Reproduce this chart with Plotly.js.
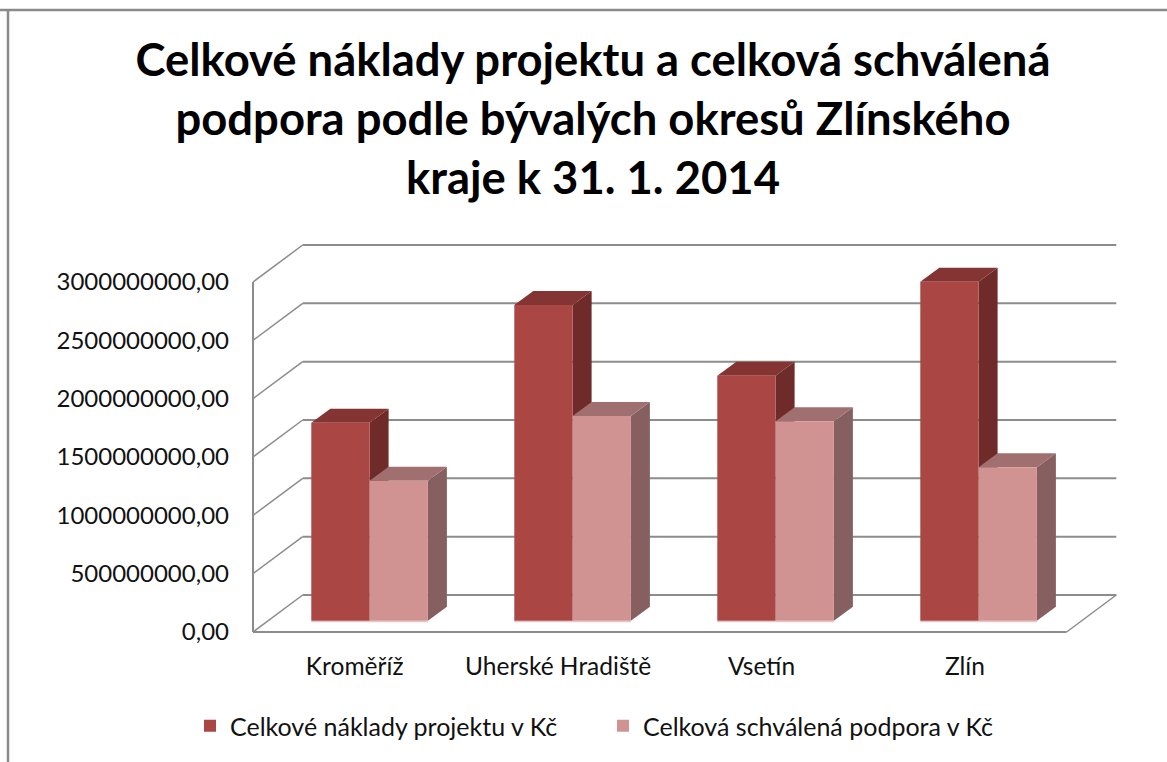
<!DOCTYPE html>
<html>
<head>
<meta charset="utf-8">
<script src="https://cdn.plot.ly/plotly-3.0.1.min.js"></script>
<style>html,body{margin:0;padding:0;background:#fff;overflow:hidden}</style>
</head>
<body>
<div id="chart" style="width:1167px;height:762px"></div>
<script>
const categories = ['Kroměříž', 'Uherské Hradiště', 'Vsetín', 'Zlín'];
const naklady = [1.697e9, 2.706e9, 2.10e9, 2.906e9];
const podpora = [1.20e9, 1.755e9, 1.709e9, 1.315e9];
const tickValues = [0, 5e8, 1e9, 1.5e9, 2e9, 2.5e9, 3e9];
const tickLabels = ['0,00', '500000000,00', '1000000000,00', '1500000000,00', '2000000000,00', '2500000000,00', '3000000000,00'];
const seriesNames = ['Celkové náklady projektu v Kč', 'Celková schválená podpora v Kč'];
const titleText = 'Celkové náklady projektu a celková schválená<br>podpora podle bývalých okresů Zlínského<br>kraje k 31. 1. 2014';

// perspective constants in axis units
const W = 1167, H = 762;
const m = {l: 240, r: 37, t: 235, b: 120};
const pxPerCat = 203.4, pxPerVal = 58.33 / 5e8;
const xRange = [(m.l - 354.7) / pxPerCat, (W - m.r - 354.7) / pxPerCat];
const yRange = [-(H - m.b - 632) / pxPerVal, (632 - m.t) / pxPerVal];
const wallDx = 49.7 / pxPerCat, wallDy = 37 / pxPerVal;   // depth of the floor
const barDx = 19 / pxPerCat, barDy = 14 / pxPerVal;        // depth of a bar
const barBase = 11.3 / pxPerVal;                           // bar sits inset on the floor
const barW = 58.3 / pxPerCat, groupShift = 14.9 / pxPerCat, groupStep = 203 / pxPerCat;
const floorL = -0.5, floorR = 3.5;

const gridColor = '#8c8c8c';
const shapes = [];
const line = (x0, y0, x1, y1, w, c) => shapes.push({type: 'line', layer: 'below', xref: 'x', yref: 'y', x0, y0, x1, y1, line: {color: c || gridColor, width: w || 2}});
const poly = (pts, fill) => shapes.push({type: 'path', layer: 'below', xref: 'x', yref: 'y',
  path: 'M' + pts.map(p => p[0] + ',' + p[1]).join('L') + 'Z', fillcolor: fill, line: {width: 0}});

tickValues.forEach(v => {
  line(floorL, v, floorL + wallDx, v + wallDy, 1.5);
  line(floorL + wallDx, v + wallDy, floorR + wallDx, v + wallDy, 2);
});
line(floorL, 0, floorL, tickValues[tickValues.length - 1], 2);
line(floorL, 0, floorR, 0, 2);
line(floorR, 0, floorR + wallDx, wallDy, 1.5);

function box(x0, x1, v, top, side) {
  const b = barBase, t = barBase + v;
  poly([[x1, b], [x1 + barDx, b + barDy], [x1 + barDx, t + barDy], [x1, t]], side);
  poly([[x0, t], [x1, t], [x1 + barDx, t + barDy], [x0 + barDx, t + barDy]], top);
  poly([[x0, b], [x1, b], [x1, b - 1.6 / pxPerVal], [x0, b - 1.6 / pxPerVal]], '#E6C6C6');
}
const xA = categories.map((c, i) => i * groupStep + groupShift - barW / 2);
const xB = categories.map((c, i) => i * groupStep + groupShift + barW / 2);
categories.forEach((c, i) => {
  box(xA[i] - barW / 2, xA[i] + barW / 2, naklady[i], '#843432', '#6E2B29');
  box(xB[i] - barW / 2, xB[i] + barW / 2, podpora[i], '#A07070', '#866060');
});

// page frame: top and left edges only
const px = p => (p - m.l) / (W - m.l - m.r);
const py = p => 1 - (p - m.t) / (H - m.t - m.b);
shapes.push({type: 'line', xref: 'paper', yref: 'paper', x0: px(0), x1: px(W), y0: py(10), y1: py(10), line: {color: '#8a8a8a', width: 2.5}});
shapes.push({type: 'line', xref: 'paper', yref: 'paper', x0: px(8), x1: px(8), y0: py(10), y1: py(H), line: {color: '#8a8a8a', width: 2.5}});

const bar = (x, y, name, color) => ({type: 'bar', x, y, base: barBase, width: barW, name,
  marker: {color, line: {width: 0}}, hoverinfo: 'skip'});

Plotly.newPlot('chart', [
  bar(xA, naklady, seriesNames[0], '#AA4643'),
  bar(xB, podpora, seriesNames[1], '#D19392')
], {
  width: W, height: H,
  margin: m,
  paper_bgcolor: '#fff', plot_bgcolor: 'rgba(0,0,0,0)',
  font: {family: 'Lato, sans-serif', color: '#111'},
  barmode: 'overlay',
  title: {text: titleText, font: {family: 'Lato, sans-serif', size: 45.4, weight: 700, color: '#000'},
    x: 593 / W, xanchor: 'center', y: 1 - 76 / H, yanchor: 'middle'},
  xaxis: {range: xRange, tickmode: 'array', tickvals: categories.map((c, i) => i), ticktext: categories,
    showgrid: false, zeroline: false, showline: false, ticks: '', ticklabelstandoff: 7,
    tickfont: {size: 24.5, color: '#111'}},
  yaxis: {range: yRange, tickmode: 'array', tickvals: tickValues, ticktext: tickLabels,
    showgrid: false, zeroline: false, showline: false, ticks: '', ticklabelstandoff: 10,
    tickfont: {size: 24, color: '#111'}},
  showlegend: true,
  legend: {orientation: 'h', x: px(190), xanchor: 'left', y: py(726), yanchor: 'middle',
    font: {size: 25, color: '#111'}, traceorder: 'normal', bgcolor: 'rgba(0,0,0,0)',
    entrywidth: 368, entrywidthmode: 'pixels'},
  shapes
}, {displayModeBar: false, responsive: false});
</script>
</body>
</html>
